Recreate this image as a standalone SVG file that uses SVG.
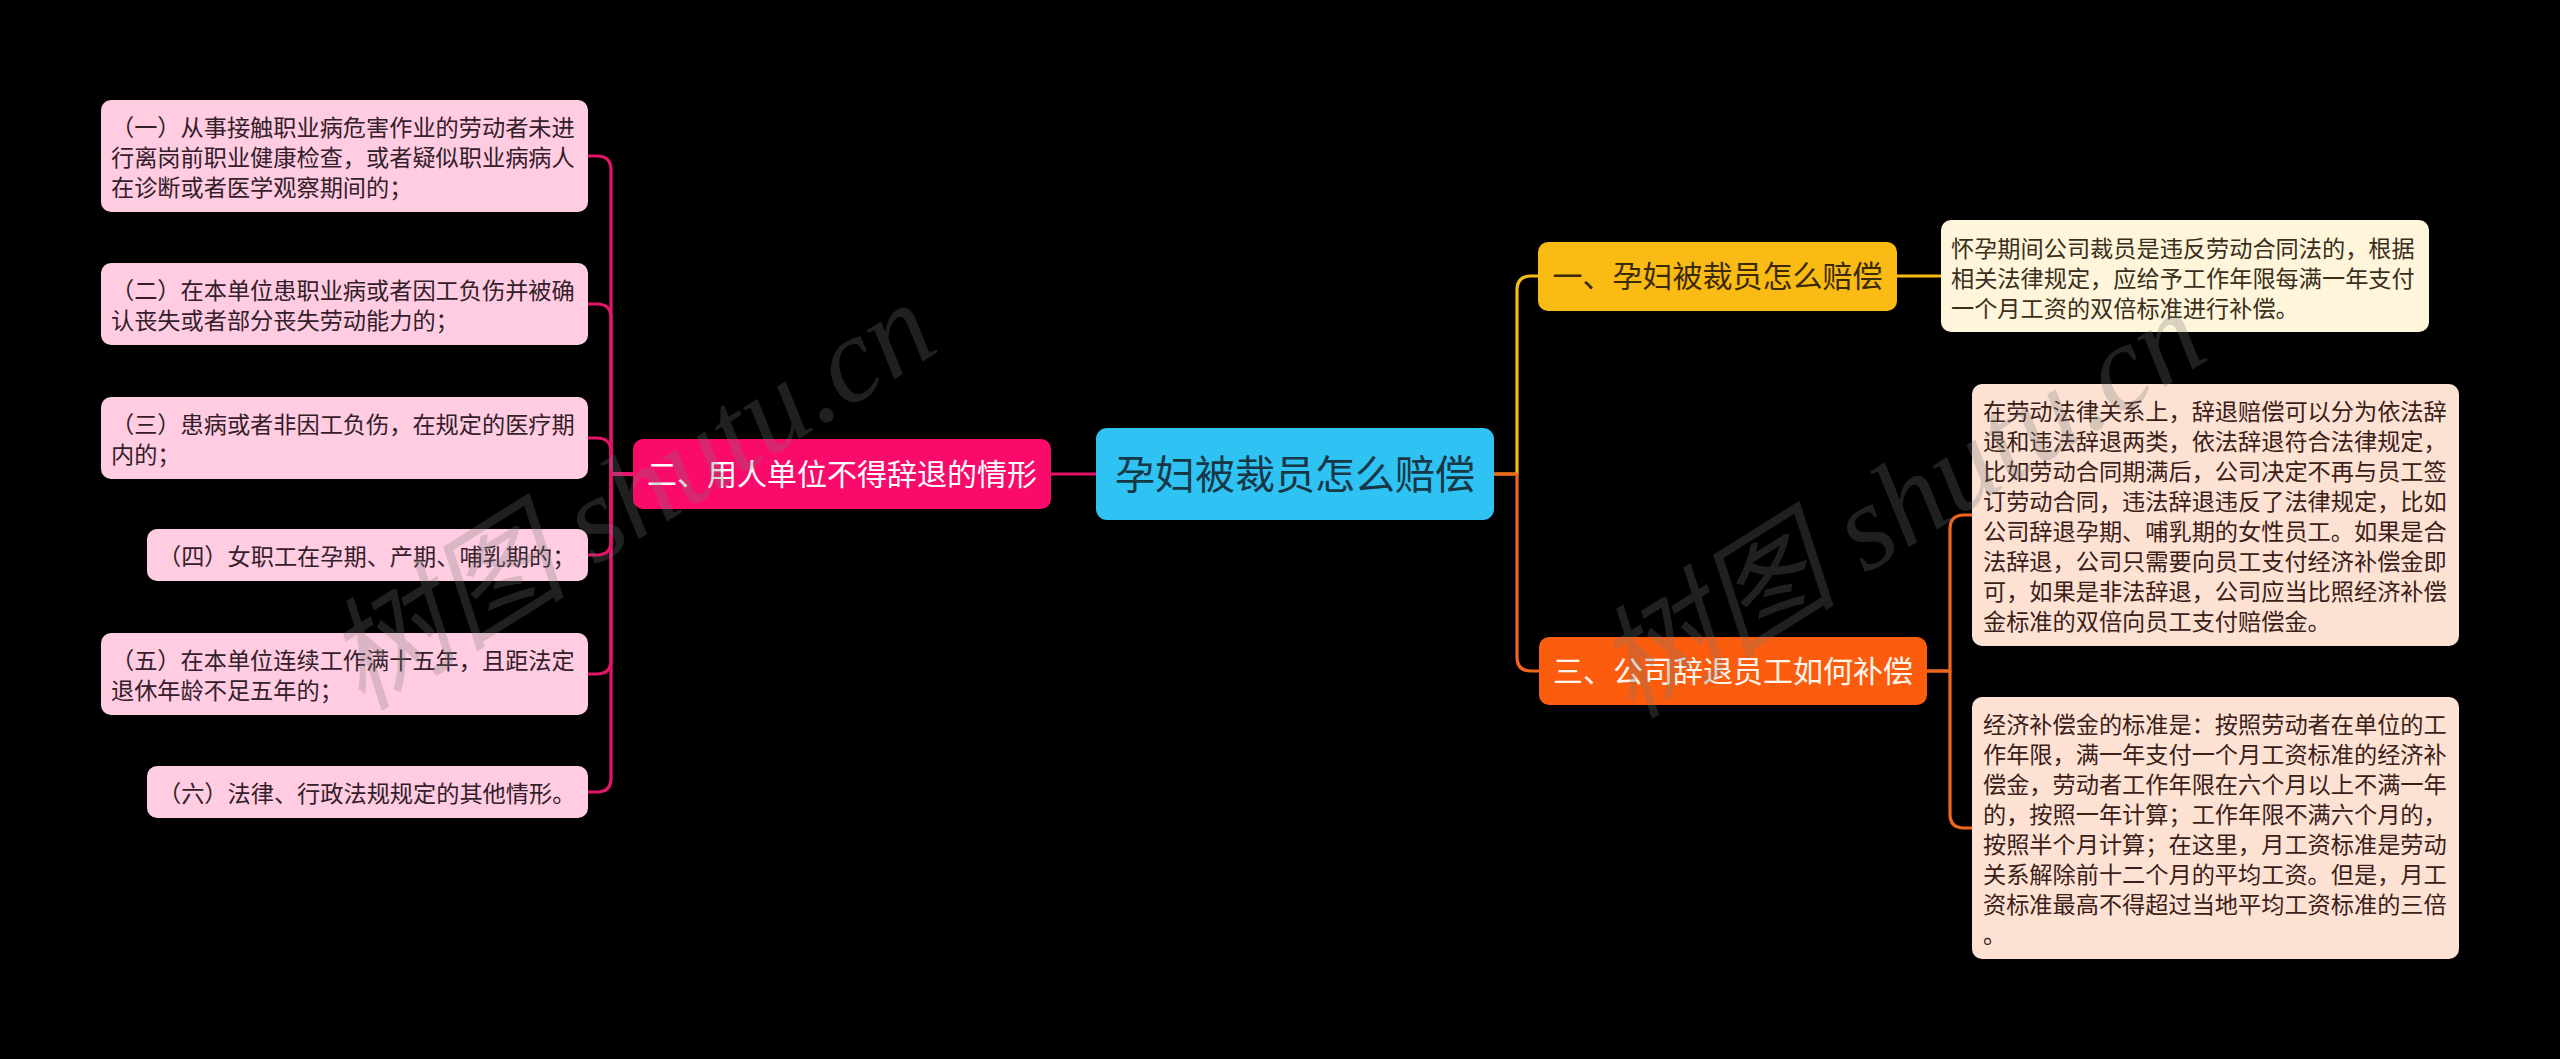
<svg xmlns="http://www.w3.org/2000/svg" width="2560" height="1059" viewBox="0 0 2560 1059">
<defs>
<style>
text{font-family:"Noto Sans CJK SC","Noto Sans",sans-serif;}
.leafL rect{fill:#FFCCE1;}
.leafL text{font-size:23.2px;fill:#33202a;}
.leafY rect{fill:#FEF5DA;}
.leafY text{font-size:23.2px;fill:#3a2f1c;}
.leafO rect{fill:#FDE2D4;}
.leafO text{font-size:23.2px;fill:#3a2018;}
.branch text{font-size:30px;text-anchor:middle;}
.c{fill:none;stroke-width:3.2;stroke-linecap:round;stroke-linejoin:round;}
.wm{font-family:"Liberation Serif","Noto Sans CJK SC",serif;font-style:italic;font-size:122px;fill:#787878;opacity:0.27;}
</style>
</defs>
<rect x="0" y="0" width="2560" height="1059" fill="#000000"/>

<g id="connectors">
  <g stroke="#E3146B" class="c">
    <path class="c" d="M633,474 H611 V170 Q611,156 597,156 H588"/>
    <path class="c" d="M633,474 H611 V318 Q611,304 597,304 H588"/>
    <path class="c" d="M633,474 H611 V452 Q611,438 597,438 H588"/>
    <path class="c" d="M633,474 H611 V541 Q611,555 597,555 H588"/>
    <path class="c" d="M633,474 H611 V660 Q611,674 597,674 H588"/>
    <path class="c" d="M633,474 H611 V778 Q611,792 597,792 H588"/>
    <path class="c" d="M1051,474 H1096"/>
  </g>
  <g stroke="#F8BC17">
    <path class="c" d="M1494,474 H1517 V290 Q1517,276 1531,276 H1538"/>
    <path class="c" d="M1897,276 H1941"/>
  </g>
  <g stroke="#F0661C">
    <path class="c" d="M1494,474 H1517 V657 Q1517,671 1531,671 H1539"/>
    <path class="c" d="M1927,671 H1950 V529 Q1950,515 1964,515 H1972"/>
    <path class="c" d="M1927,671 H1950 V814 Q1950,828 1964,828 H1972"/>
  </g>
</g>

<g id="root" class="branch">
  <rect x="1096" y="428" width="398" height="92" rx="11" fill="#2FC3F4"/>
  <text x="1295" y="489" style="font-size:40px" fill="#163846">孕妇被裁员怎么赔偿</text>
</g>

<g id="b2" class="branch">
  <rect x="633" y="439" width="418" height="70" rx="10" fill="#FA0A6B"/>
  <text x="842" y="485" fill="#ffffff">二、用人单位不得辞退的情形</text>
</g>

<g id="b1" class="branch">
  <rect x="1538" y="242" width="359" height="69" rx="10" fill="#FABC14"/>
  <text x="1717.5" y="287" fill="#3a2a05">一、孕妇被裁员怎么赔偿</text>
</g>

<g id="b3" class="branch">
  <rect x="1539" y="637" width="388" height="68" rx="10" fill="#FC5C0E"/>
  <text x="1733" y="682" fill="#fff6ee">三、公司辞退员工如何补偿</text>
</g>

<g id="l1" class="leafL">
  <rect x="101" y="100" width="487" height="112" rx="10"/>
  <text x="111" y="136">（一）从事接触职业病危害作业的劳动者未进</text>
  <text x="111" y="166">行离岗前职业健康检查，或者疑似职业病病人</text>
  <text x="111" y="196">在诊断或者医学观察期间的；</text>
</g>
<g id="l2" class="leafL">
  <rect x="101" y="263" width="487" height="82" rx="10"/>
  <text x="111" y="299">（二）在本单位患职业病或者因工负伤并被确</text>
  <text x="111" y="329">认丧失或者部分丧失劳动能力的；</text>
</g>
<g id="l3" class="leafL">
  <rect x="101" y="397" width="487" height="82" rx="10"/>
  <text x="111" y="433">（三）患病或者非因工负伤，在规定的医疗期</text>
  <text x="111" y="463">内的；</text>
</g>
<g id="l4" class="leafL">
  <rect x="147" y="529" width="441" height="52" rx="10"/>
  <text x="158" y="565">（四）女职工在孕期、产期、哺乳期的；</text>
</g>
<g id="l5" class="leafL">
  <rect x="101" y="633" width="487" height="82" rx="10"/>
  <text x="111" y="669">（五）在本单位连续工作满十五年，且距法定</text>
  <text x="111" y="699">退休年龄不足五年的；</text>
</g>
<g id="l6" class="leafL">
  <rect x="147" y="766" width="441" height="52" rx="10"/>
  <text x="158" y="802">（六）法律、行政法规规定的其他情形。</text>
</g>

<g id="r1" class="leafY">
  <rect x="1941" y="220" width="488" height="112" rx="10"/>
  <text x="1951" y="257">怀孕期间公司裁员是违反劳动合同法的，根据</text>
  <text x="1951" y="287">相关法律规定，应给予工作年限每满一年支付</text>
  <text x="1951" y="317">一个月工资的双倍标准进行补偿。</text>
</g>

<g id="r2" class="leafO">
  <rect x="1972" y="384" width="487" height="262" rx="10"/>
  <text x="1983" y="420">在劳动法律关系上，辞退赔偿可以分为依法辞</text>
  <text x="1983" y="450">退和违法辞退两类，依法辞退符合法律规定，</text>
  <text x="1983" y="480">比如劳动合同期满后，公司决定不再与员工签</text>
  <text x="1983" y="510">订劳动合同，违法辞退违反了法律规定，比如</text>
  <text x="1983" y="540">公司辞退孕期、哺乳期的女性员工。如果是合</text>
  <text x="1983" y="570">法辞退，公司只需要向员工支付经济补偿金即</text>
  <text x="1983" y="600">可，如果是非法辞退，公司应当比照经济补偿</text>
  <text x="1983" y="630">金标准的双倍向员工支付赔偿金。</text>
</g>

<g id="r3" class="leafO">
  <rect x="1972" y="697" width="487" height="262" rx="10"/>
  <text x="1983" y="733">经济补偿金的标准是：按照劳动者在单位的工</text>
  <text x="1983" y="763">作年限，满一年支付一个月工资标准的经济补</text>
  <text x="1983" y="793">偿金，劳动者工作年限在六个月以上不满一年</text>
  <text x="1983" y="823">的，按照一年计算；工作年限不满六个月的，</text>
  <text x="1983" y="853">按照半个月计算；在这里，月工资标准是劳动</text>
  <text x="1983" y="883">关系解除前十二个月的平均工资。但是，月工</text>
  <text x="1983" y="913">资标准最高不得超过当地平均工资标准的三倍</text>
  <text x="1983" y="943">。</text>
</g>

<g id="watermark">
  <text class="wm" transform="translate(362,712) rotate(-32)">树图 shutu.cn</text>
  <text class="wm" transform="translate(1632,720) rotate(-32)">树图 shutu.cn</text>
</g>
</svg>
